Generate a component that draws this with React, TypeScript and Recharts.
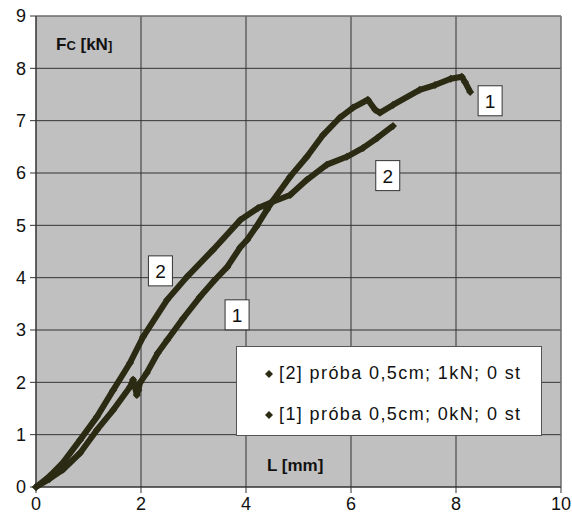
import { ScatterChart, Scatter, XAxis, YAxis, CartesianGrid, ReferenceDot, ReferenceLine } from 'recharts';

const xTicks = [0, 2, 4, 6, 8, 10];
const yTicks = [0, 1, 2, 3, 4, 5, 6, 7, 8, 9];

// [1] próba 0,5cm; 0kN; 0 st
const s1X = [0, 0.25, 0.51, 0.84, 1.16, 1.47, 1.79, 1.85, 1.92, 1.95, 1.98, 2.11, 2.32, 2.5, 2.8, 3.12, 3.4, 3.64, 3.89, 4.02, 4.2, 4.4, 4.51, 4.84, 5.16, 5.47, 5.79, 6.04, 6.32, 6.46, 6.55, 6.8, 7.31, 7.6, 7.9, 8.11, 8.17, 8.27];
const s1Y = [0, 0.15, 0.33, 0.65, 1.09, 1.47, 1.91, 2.05, 1.76, 1.85, 1.99, 2.18, 2.56, 2.81, 3.22, 3.63, 3.95, 4.2, 4.58, 4.72, 4.98, 5.3, 5.47, 5.93, 6.31, 6.73, 7.06, 7.25, 7.4, 7.21, 7.15, 7.3, 7.59, 7.68, 7.8, 7.84, 7.74, 7.55];

// [2] próba 0,5cm; 1kN; 0 st
const s2X = [0, 0.25, 0.51, 0.84, 1.16, 1.47, 1.79, 2.04, 2.5, 2.88, 3.37, 3.89, 4.23, 4.51, 4.84, 5.16, 5.54, 5.92, 6.23, 6.5, 6.8];
const s2Y = [0, 0.2, 0.46, 0.9, 1.34, 1.85, 2.37, 2.87, 3.58, 4.02, 4.53, 5.1, 5.33, 5.45, 5.58, 5.87, 6.16, 6.31, 6.48, 6.67, 6.9];

const legendNames = ['[2] próba 0,5cm; 1kN; 0 st', '[1] próba 0,5cm; 0kN; 0 st'];

// curve tags: [label, x, y]
const tags: [string, number, number][] = [
  ['1', 8.65, 7.38],
  ['2', 6.7, 5.95],
  ['2', 2.37, 4.13],
  ['1', 3.83, 3.29],
];

const series1 = s1X.map((x, i) => ({ x, y: s1Y[i] }));
const series2 = s2X.map((x, i) => ({ x, y: s2Y[i] }));

const ink = '#2b2b14';
const font = '"Liberation Sans", Arial, sans-serif';

const Diamond = (props: any) => {
  const { cx, cy } = props;
  return <path d={`M${cx},${cy - 4}L${cx + 4},${cy}L${cx},${cy + 4}L${cx - 4},${cy}Z`} fill={ink} />;
};

const Tag = (text: string) => (props: any) => {
  const { cx, cy } = props;
  return (
    <g>
      <rect x={cx - 12} y={cy - 15} width={24} height={30} fill="#fff" stroke="#333" strokeWidth={1} />
      <text x={cx} y={cy + 7} textAnchor="middle" fontSize={19} fontFamily={font} fill="#111">{text}</text>
    </g>
  );
};

export default function App() {
  return (
    <div style={{ position: 'absolute', left: 0, top: 0, width: 572, height: 526, background: '#fff' }}>
      <ScatterChart width={572} height={526} margin={{ top: 16, right: 11, bottom: 0, left: 0 }}>
        <CartesianGrid stroke="#333" fill="#c0c0c0" />
        <XAxis
          type="number"
          dataKey="x"
          domain={[0, 10]}
          ticks={xTicks}
          height={39}
          tickSize={6}
          tickMargin={4}
          stroke="#333"
          tick={{ fontSize: 18, fill: '#111', fontFamily: font }}
        />
        <YAxis
          type="number"
          dataKey="y"
          domain={[0, 9]}
          ticks={yTicks}
          width={36}
          tickSize={6}
          tickMargin={4}
          stroke="#333"
          tick={{ fontSize: 18, fill: '#111', fontFamily: font }}
        />
        <ReferenceLine y={9} stroke="#888" />
        <ReferenceLine x={10} stroke="#888" />
        <Scatter
          name={legendNames[1]}
          data={series1}
          fill={ink}
          shape={Diamond}
          line={{ stroke: ink, strokeWidth: 6, strokeLinejoin: 'round' }}
          isAnimationActive={false}
        />
        <Scatter
          name={legendNames[0]}
          data={series2}
          fill={ink}
          shape={Diamond}
          line={{ stroke: ink, strokeWidth: 6, strokeLinejoin: 'round' }}
          isAnimationActive={false}
        />
        {tags.map(([t, x, y], i) => (
          <ReferenceDot key={i} x={x} y={y} r={0} shape={Tag(t)} />
        ))}
      </ScatterChart>
      <div style={{ position: 'absolute', left: 236, top: 346, width: 306, height: 90, background: '#fff', border: '1px solid #555', fontFamily: font, fontSize: 18, color: '#111', boxSizing: 'border-box', paddingTop: 6 }}>
        {legendNames.map((n) => (
          <div key={n} style={{ display: 'flex', alignItems: 'center', height: 41, paddingLeft: 27 }}>
            <svg width={12} height={10} style={{ marginRight: 3 }}>
              <path d="M5,1L9,5L5,9L1,5Z" fill={ink} />
            </svg>
            <span style={{ letterSpacing: 1.4 }}>{n}</span>
          </div>
        ))}
      </div>
      <div style={{ position: 'absolute', left: 56, top: 35, fontFamily: font, fontWeight: 'bold', fontSize: 17, color: '#111', whiteSpace: 'nowrap' }}>
        F<span style={{ fontSize: 13 }}>C</span> [kN<span style={{ fontSize: 13 }}>]</span>
      </div>
      <div style={{ position: 'absolute', left: 267, top: 456, fontFamily: font, fontWeight: 'bold', fontSize: 17, color: '#111', whiteSpace: 'nowrap' }}>
        L [mm]
      </div>
    </div>
  );
}
